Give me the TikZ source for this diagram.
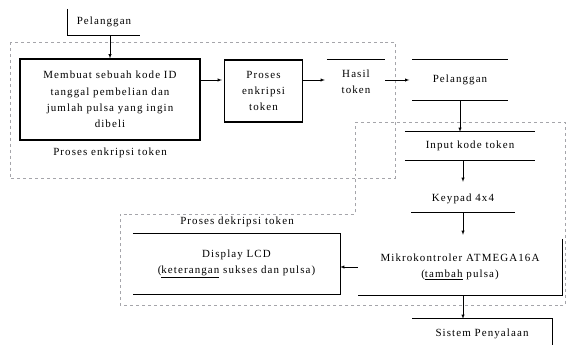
\documentclass[tikz,border=0pt]{standalone}
\usepackage{fontspec}
\setmainfont[LetterSpace=10]{Liberation Serif}
\usepackage{tikz}
\usetikzlibrary{calc}
\usetikzlibrary{arrows}
\usetikzlibrary{positioning}
\definecolor{groupgray}{RGB}{165, 165, 170}

\tikzset{
  txt/.style={align=center, inner sep=1pt, font=\fontsize{11}{16.5}\selectfont},
  procbox/.style={txt, draw, line width=1.2pt},
  edge/.style={line width=1.2pt},
  group/.style={groupgray, dash pattern=on 3pt off 3pt, line width=0.8pt},
  flow/.style={->, >=latex, line width=0.5pt},
}

\begin{document}
\begin{tikzpicture}[x=1bp, y=-1bp]
            % Frame
            \useasboundingbox (0,0) rectangle (568,344);
            % Dashed groups
            \draw[group] (10,42) rectangle (395,178);
            \draw[group] (355,122) -- (565,122) -- (565,305) -- (120,305) -- (120,214) -- (355,214) -- cycle;
            % Encryption side
            \node[txt, minimum width=72bp, minimum height=26bp] (custA) at (104,22) {Pelanggan};
            \draw[edge] (custA.north west) -- (custA.south west) -- (custA.south east);
            \node[procbox, minimum width=180bp, minimum height=81bp] (make) at (110,99.5)
                 {Membuat sebuah kode ID\\tanggal pembelian dan\\jumlah pulsa yang ingin\\dibeli};
            \node[txt] (lblEnc) [below=6bp of make] {Proses enkripsi token};
            \node[procbox, minimum width=78bp, minimum height=62bp] (encrypt) at (263.5,91)
                 {Proses\\enkripsi\\token};
            \node[txt, minimum width=58bp, minimum height=44bp] (result) at (356,82) {Hasil\\token};
            \draw[edge] (result.north west) -- (result.north east);
            % Customer
            \node[txt, minimum width=95bp, minimum height=40bp] (custB) at (460,80) {Pelanggan};
            \draw[edge] (custB.north west) -- (custB.north east);
            \draw[edge] (custB.south west) -- (custB.south east);
            % Decryption side
            \node[txt, minimum width=130bp, minimum height=28bp] (input) at (470,146) {Input kode token};
            \draw[edge] (input.north west) -- (input.north east);
            \draw[edge] (input.south west) -- (input.south east);
            \node[txt, minimum width=103bp, minimum height=26bp] (keypad) at (463,199) {Keypad 4x4};
            \draw[edge] (keypad.south west) -- (keypad.south east);
            \node[txt, minimum width=204bp, minimum height=56bp] (mcu) at (460,267)
                 {Mikrokontroler ATMEGA16A\\(\underline{tambah} pulsa)};
            \draw[edge] (mcu.north east) -- (mcu.south east) -- (mcu.south west);
            \node[txt, minimum width=207bp, minimum height=60bp] (lcd) at (236.5,264)
                 {Display LCD\\(\underline{keterangan} sukses dan pulsa)};
            \draw[edge] (lcd.north west) -- (lcd.north east) -- (lcd.south east) -- (lcd.south west);
            \node[txt] (lblDec) at (237,222) {Proses dekripsi token};
            \node[txt, minimum width=140bp, minimum height=30bp] (relay) at (482,334) {Sistem Penyalaan};
            \draw[edge] (relay.south east) -- (relay.north east) -- (relay.north west);
            % Flow
            \draw[flow] (custA.south -| make.north) -- (make.north);
            \draw[flow] (make.east |- custB) -- ($(encrypt.west |- custB)+(-2,0)$);
            \draw[flow] (encrypt.east |- custB) -- ($(result.west |- custB)+(-2,0)$);
            \draw[flow] (result.east |- custB) -- ($(custB.west)+(-3,0)$);
            \draw[flow] (custB.south) -- (custB.south |- input.north);
            \draw[flow] (input.south -| keypad.north) -- ($(keypad.north)+(0,-4)$);
            \draw[flow] (keypad.south) -- ($(mcu.north -| keypad.south)+(0,-4)$);
            \draw[flow] (mcu.west) -- (lcd.east |- mcu.west);
            \draw[flow] (mcu.south -| keypad.south) -- (relay.north -| keypad.south);
\end{tikzpicture}
\end{document}
